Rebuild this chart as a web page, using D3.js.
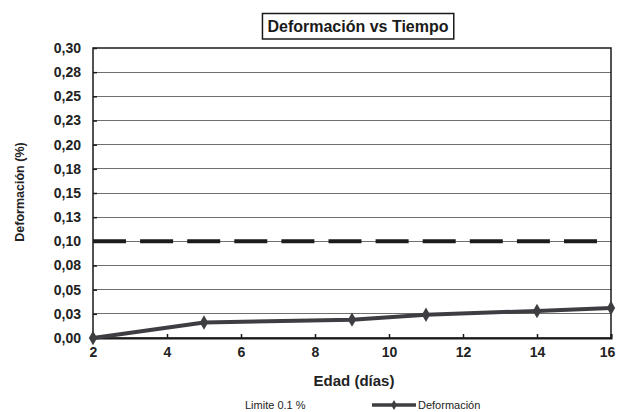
<!DOCTYPE html>
<html>
<head>
<meta charset="utf-8">
<script src="https://cdn.jsdelivr.net/npm/d3@7"></script>
<style>
  html, body { margin: 0; padding: 0; background: #ffffff; }
  svg { display: block; font-family: Arial, "Liberation Sans", sans-serif; }
</style>
</head>
<body>
<svg id="chart" width="617" height="412"></svg>
<script>
// Measured strain over curing age
const days = [2, 5, 9, 11, 14, 16];
const deformacion = [0, 0.016, 0.019, 0.024, 0.028, 0.031];

// Limit reference line
const limiteX = [2, 16];
const limiteY = [0.10, 0.10];

// Axis ticks
const xTicks = [2, 4, 6, 8, 10, 12, 14, 16];
const yTicks = [0, 0.025, 0.05, 0.075, 0.10, 0.125, 0.15, 0.175, 0.20, 0.225, 0.25, 0.275, 0.30];

const titleText = "Deformación vs Tiempo";
const xTitle = "Edad (días)";
const yTitle = "Deformación (%)";
const legendLimite = "Limite 0.1 %";
const legendSerie = "Deformación";

const svg = d3.select("#chart");
const margin = { left: 93, right: 6, top: 48, bottom: 74 };
const W = 617, H = 412;
const x = d3.scaleLinear().domain([2, 16]).range([margin.left, W - margin.right]);
const y = d3.scaleLinear().domain([0, 0.30]).range([H - margin.bottom, margin.top]);

const fmt = v => d3.format(".2f")(v + 1e-9).replace(".", ",");

// Horizontal gridlines
svg.append("g")
  .selectAll("line")
  .data(yTicks.filter(v => v > 0 && v < 0.30))
  .join("line")
  .attr("x1", x(2)).attr("x2", x(16))
  .attr("y1", d => y(d)).attr("y2", d => y(d))
  .attr("stroke", "#6f6f6f")
  .attr("stroke-width", 1)
  .attr("shape-rendering", "crispEdges");

// Plot frame
svg.append("rect")
  .attr("x", x(2)).attr("y", y(0.30))
  .attr("width", x(16) - x(2)).attr("height", y(0) - y(0.30))
  .attr("fill", "none")
  .attr("stroke", "#1a1a1a")
  .attr("stroke-width", 1.5);

// Y axis
const yAxis = d3.axisLeft(y).tickValues(yTicks).tickFormat(fmt).tickSize(-4).tickPadding(12);
const gy = svg.append("g").attr("transform", `translate(${x(2)},0)`).call(yAxis);
gy.select(".domain").remove();
gy.selectAll("line").attr("stroke", "#1a1a1a").attr("stroke-width", 1.5);
gy.selectAll("text").attr("font-size", 14).attr("font-weight", "bold").attr("fill", "#222");

// X axis
const xAxis = d3.axisBottom(x).tickValues(xTicks).tickFormat(d3.format("d")).tickSize(-4).tickPadding(9);
const gx = svg.append("g").attr("transform", `translate(0,${y(0)})`).call(xAxis);
gx.select(".domain").attr("stroke", "#1a1a1a").attr("stroke-width", 2);
gx.selectAll("line").attr("stroke", "#1a1a1a").attr("stroke-width", 1.5);
gx.selectAll("text").attr("font-size", 14).attr("font-weight", "bold").attr("fill", "#222");
// keep the last label inside the page edge
gx.selectAll(".tick").filter(d => d === 16).select("text").attr("dx", -4);

// Limit line (dashed, ending in a gap at the right frame)
const line = d3.line().x(d => x(d[0])).y(d => y(d[1]));
svg.append("path")
  .datum(limiteX.map((d, i) => [d, limiteY[i]]))
  .attr("d", line)
  .attr("fill", "none")
  .attr("stroke", "#1c1c1c")
  .attr("stroke-width", 4)
  .attr("stroke-dasharray", "33 14.1");

// Deformation series
const pts = days.map((d, i) => [d, deformacion[i]]);
svg.append("path")
  .datum(pts)
  .attr("d", line)
  .attr("fill", "none")
  .attr("stroke", "#3e3e42")
  .attr("stroke-width", 4)
  .attr("stroke-linejoin", "round");

const diamond = d3.symbol().type(d3.symbolDiamond).size(60);
svg.append("g")
  .selectAll("path")
  .data(pts)
  .join("path")
  .attr("d", diamond)
  .attr("transform", d => `translate(${x(d[0])},${y(d[1])})`)
  .attr("fill", "#3e3e42");

// Title box
const tg = svg.append("g");
const tt = tg.append("text")
  .attr("x", 358).attr("y", 32)
  .attr("text-anchor", "middle")
  .attr("font-size", 16).attr("font-weight", "bold").attr("fill", "#1a1a1a")
  .text(titleText);
const bb = tt.node().getBBox();
tg.insert("rect", "text")
  .attr("x", bb.x - 5).attr("y", 13.5)
  .attr("width", bb.width + 10).attr("height", 25.5)
  .attr("fill", "#fff")
  .attr("stroke", "#1a1a1a").attr("stroke-width", 1.5);

// Axis titles
svg.append("text")
  .attr("x", 354).attr("y", 386)
  .attr("text-anchor", "middle")
  .attr("font-size", 15).attr("font-weight", "bold").attr("fill", "#222")
  .text(xTitle);

svg.append("text")
  .attr("transform", `translate(24,192) rotate(-90)`)
  .attr("text-anchor", "middle")
  .attr("font-size", 12.5).attr("font-weight", "bold").attr("fill", "#222")
  .text(yTitle);

// Legend
svg.append("text")
  .attr("x", 245).attr("y", 409)
  .attr("font-size", 11).attr("fill", "#222")
  .text(legendLimite);

svg.append("line")
  .attr("x1", 372).attr("x2", 416).attr("y1", 405).attr("y2", 405)
  .attr("stroke", "#3e3e42").attr("stroke-width", 3.5);
svg.append("path")
  .attr("d", d3.symbol().type(d3.symbolDiamond).size(30))
  .attr("transform", "translate(394,405)")
  .attr("fill", "#3e3e42");
svg.append("text")
  .attr("x", 418).attr("y", 409)
  .attr("font-size", 11).attr("fill", "#222")
  .text(legendSerie);
</script>
</body>
</html>
